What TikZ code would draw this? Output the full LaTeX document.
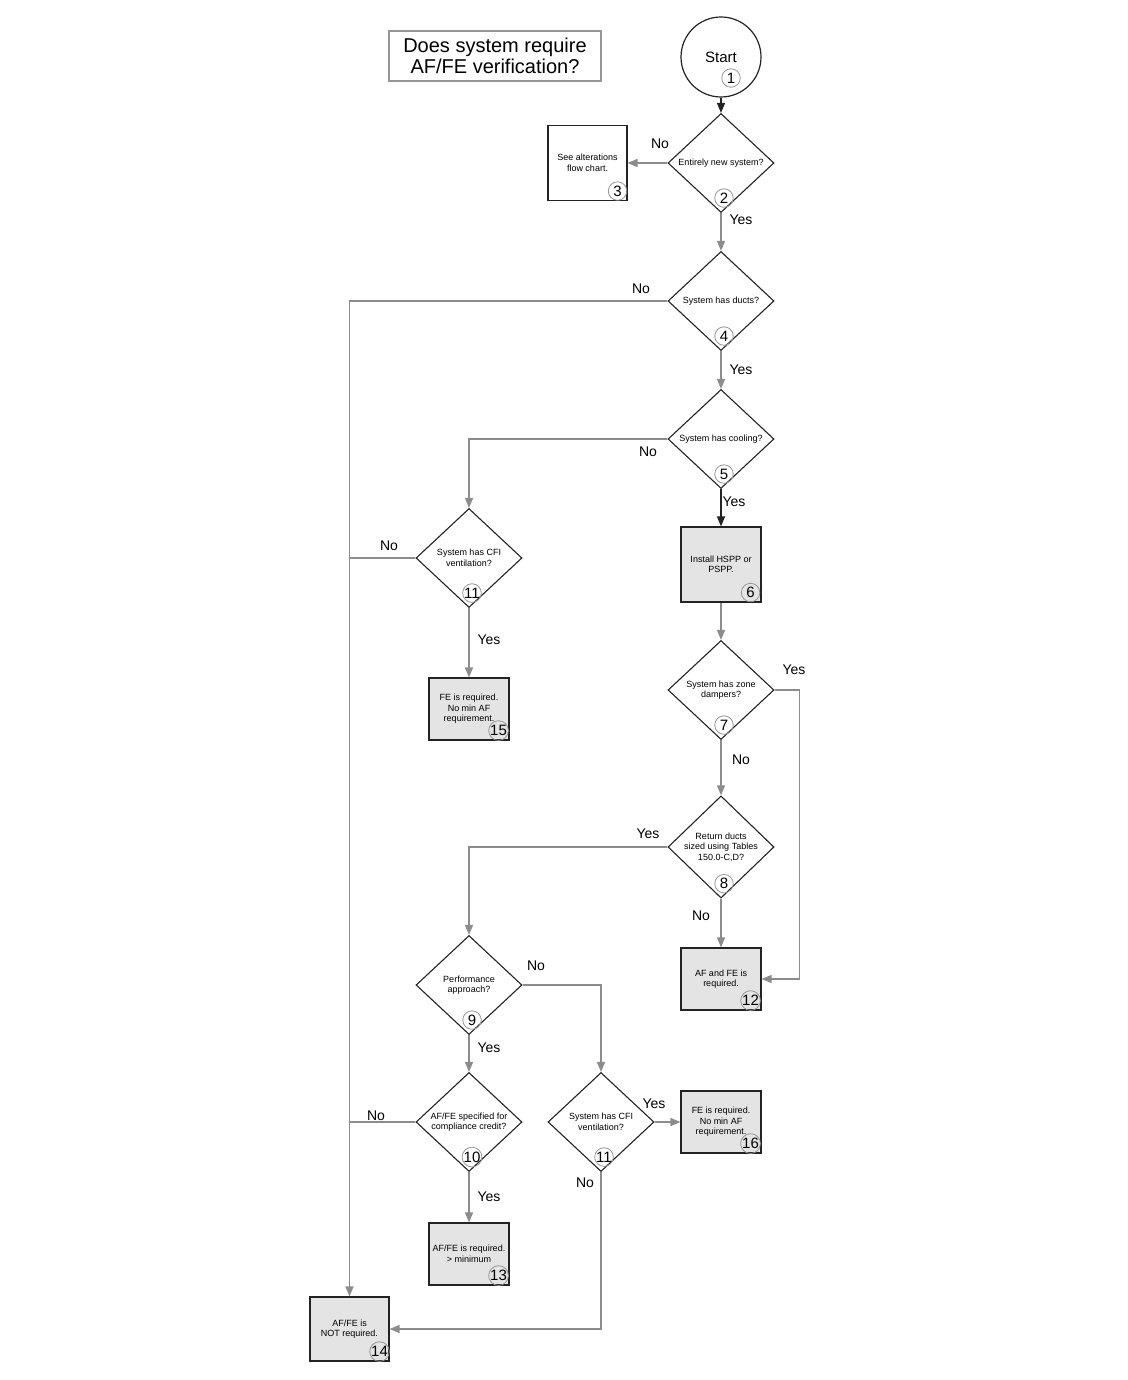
\documentclass[tikz,border=0pt]{standalone}
\usepackage{fontspec}
\setmainfont{Liberation Sans}
\usepackage{tikz}
\usetikzlibrary{positioning,arrows.meta,shapes.geometric,calc}
\definecolor{gristrazo}{RGB}{140,140,140}
\definecolor{relleno}{RGB}{228,228,228}
\definecolor{borde}{RGB}{35,35,35}
\definecolor{marco}{RGB}{150,150,150}

\begin{document}
\begin{tikzpicture}[x=1pt, y=-1pt,
  pregunta/.style={diamond, draw=borde, line width=1.1pt, minimum width=106pt,
                   minimum height=99pt, inner sep=0pt, align=center,
                   font=\fontsize{9}{10.5}\selectfont},
  caja/.style={rectangle, draw=borde, line width=1.1pt, fill=relleno,
               minimum width=80pt, minimum height=62pt, inner sep=1pt, align=center,
               font=\fontsize{9}{10.5}\selectfont},
  numero/.style={circle, draw=marco, line width=0.8pt, minimum size=18.5pt,
                 inner sep=0pt, font=\fontsize{15}{15}\selectfont},
  etiqueta/.style={inner sep=0pt, font=\fontsize{14}{14}\selectfont},
  flecha/.style={-{Triangle[length=10pt,width=8pt]}, line width=1.4pt, color=gristrazo},
  trazo/.style={line width=1.4pt, color=gristrazo},
  flechanegra/.style={flecha, color=borde}]
  \useasboundingbox (0,0) rectangle (1127,1380);

  \node[draw=marco, line width=1.2pt, minimum width=212pt, minimum height=50pt,
        align=center, font=\fontsize{20}{21.5}\selectfont] (titulo) at (495,56)
       {Does system require\\AF/FE verification?};
  \node[circle, draw=borde, line width=1.2pt, minimum size=80pt, inner sep=0pt,
        font=\fontsize{15}{15}\selectfont] (inicio) at (721,57) {Start};
  \node[numero] (n1) at ([shift={(10,21)}]inicio.center) {1};

  % preguntas
  \node[pregunta] (d2) at (721,163) {Entirely new system?};
  \node[pregunta] (d4) at (721,301) {System has ducts?};
  \node[pregunta] (d5) at (721,439) {System has cooling?};
  \node[pregunta] (d7) at (721,690) {System has zone\\dampers?};
  \node[pregunta] (d8) at (721,847) {Return ducts\\sized using Tables\\150.0-C,D?};
  \node[pregunta] (d11a) at (469,558) {System has CFI\\ventilation?};
  \node[pregunta] (d9) at (469,985) {Performance\\approach?};
  \node[pregunta] (d10) at (469,1122) {AF/FE specified for\\compliance credit?};
  \node[pregunta] (d11b) at (601,1122) {System has CFI\\ventilation?};

  % resultados
  \node[caja, fill=white, minimum width=79pt, minimum height=75pt] (b3) at (587.5,163)
       {See alterations\\flow chart.};
  \node[caja, minimum height=75pt] (b6) at (721,564.5) {Install HSPP or\\PSPP.};
  \node[caja] (b15) at (469,709) {FE is required.\\No min AF\\requirement.};
  \node[caja] (b12) at (721,979) {AF and FE is\\required.};
  \node[caja] (b16) at (721,1122) {FE is required.\\No min AF\\requirement.};
  \node[caja] (b13) at (469,1254) {AF/FE is required.\\> minimum};
  \node[caja, minimum width=79pt, minimum height=64pt] (b14) at (349.5,1329)
       {AF/FE is\\NOT required.};

  % numeros
  \node[numero] (n2) at ([shift={(3,-15)}]d2.south) {2};
  \node[numero] (n4) at ([shift={(3,-15)}]d4.south) {4};
  \node[numero] (n5) at ([shift={(3,-15)}]d5.south) {5};
  \node[numero] (n7) at ([shift={(3,-15)}]d7.south) {7};
  \node[numero] (n8) at ([shift={(3,-15)}]d8.south) {8};
  \node[numero] (n11a) at ([shift={(3,-15)}]d11a.south) {11};
  \node[numero] (n9) at ([shift={(3,-15)}]d9.south) {9};
  \node[numero] (n10) at ([shift={(3,-15)}]d10.south) {10};
  \node[numero] (n11b) at ([shift={(3,-15)}]d11b.south) {11};
  \node[numero] (n3) at ([shift={(-10,-10)}]b3.south east) {3};
  \node[numero] (n6) at ([shift={(-11,-10)}]b6.south east) {6};
  \node[numero] (n15) at ([shift={(-11,-10)}]b15.south east) {15};
  \node[numero] (n12) at ([shift={(-11,-10)}]b12.south east) {12};
  \node[numero] (n16) at ([shift={(-11,-10)}]b16.south east) {16};
  \node[numero] (n13) at ([shift={(-11,-10)}]b13.south east) {13};
  \node[numero] (n14) at ([shift={(-10,-10)}]b14.south east) {14};

  % etiquetas
  \node[etiqueta] (e2no) at (660,144) {No};
  \node[etiqueta] (e2si) at (741,220) {Yes};
  \node[etiqueta] (e4no) at (641,289) {No};
  \node[etiqueta] (e4si) at (741,370) {Yes};
  \node[etiqueta] (e5no) at (648,452) {No};
  \node[etiqueta] (e5si) at (734,502) {Yes};
  \node[etiqueta] (e11ano) at (389,546) {No};
  \node[etiqueta] (e11asi) at (489,640) {Yes};
  \node[etiqueta] (e7si) at (794,670) {Yes};
  \node[etiqueta] (e7no) at (741,760) {No};
  \node[etiqueta] (e8si) at (648,834) {Yes};
  \node[etiqueta] (e8no) at (701,916) {No};
  \node[etiqueta] (e9no) at (536,966) {No};
  \node[etiqueta] (e9si) at (489,1048) {Yes};
  \node[etiqueta] (e10no) at (376,1116) {No};
  \node[etiqueta] (e10si) at (489,1197) {Yes};
  \node[etiqueta] (e11bsi) at (654,1104) {Yes};
  \node[etiqueta] (e11bno) at (585,1183) {No};

  % conectores
  \draw[flechanegra] (inicio) -- (d2);
  \draw[flecha] (d2) -- (b3);
  \draw[flecha] (d2) -- (d4);
  \draw[flecha] (d4.west) -| (b14.north);
  \draw[flecha] (d4) -- (d5);
  \draw[flecha] (d5.west) -| (d11a.north);
  \draw[flechanegra] (d5) -- (b6);
  \draw[flecha] (b6) -- (d7);
  \draw[flecha] (d7.east) -- ++(25,0) |- (b12.east);
  \draw[flecha] (d7) -- (d8);
  \draw[flecha] (d8.west) -| (d9.north);
  \draw[flecha] (d8) -- (b12);
  \draw[trazo] (d11a.west) -- (d11a.west -| b14.north);
  \draw[flecha] (d11a) -- (b15);
  \draw[flecha] (d9.east) -| (d11b.north);
  \draw[flecha] (d9) -- (d10);
  \draw[trazo] (d10.west) -- (d10.west -| b14.north);
  \draw[flecha] (d10) -- (b13);
  \draw[flecha] (d11b) -- (b16);
  \draw[flecha] (d11b.south) |- (b14.east);
\end{tikzpicture}
\end{document}
